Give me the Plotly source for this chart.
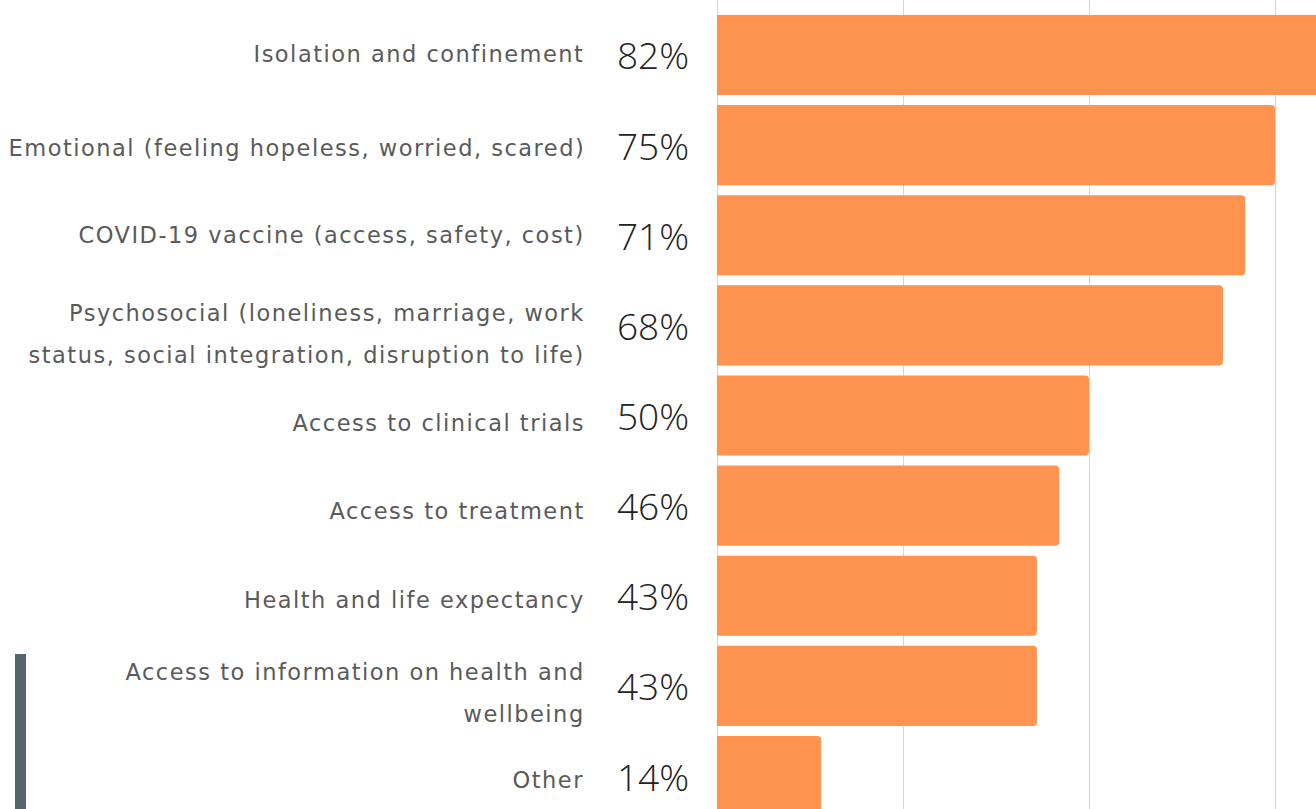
import plotly.graph_objects as go

# ---- data ----
label_lines = [
    ["Isolation and confinement"],
    ["Emotional (feeling hopeless, worried, scared)"],
    ["COVID-19 vaccine (access, safety, cost)"],
    ["Psychosocial (loneliness, marriage, work", "status, social integration, disruption to life)"],
    ["Access to clinical trials"],
    ["Access to treatment"],
    ["Health and life expectancy"],
    ["Access to information on health and", "wellbeing"],
    ["Other"],
]
categories = [" ".join(l) for l in label_lines]
values = [82, 75, 71, 68, 50, 46, 43, 43, 14]
grid_ticks = [0, 25, 50, 75]

# vertical pixel offsets of label lines relative to each bar centre (layout only)
label_offsets = [[-0.5], [2.5], [-0.5], [-12, 30], [7], [5], [4], [-14, 28], [4]]

# ---- layout geometry ----
W, H = 1316, 809
ML = 717
plot_w = W - ML
XMAX = 80.5
row_px = 90.125
first_center = 55
r_top = -first_center / row_px
r_bot = r_top + H / row_px


def px_to_paper_x(px):
    return (px - ML) / plot_w


def px_to_paper_y(py):
    return 1 - py / H


fig = go.Figure()
fig.add_trace(go.Bar(
    x=values,
    y=categories,
    orientation="h",
    marker=dict(color="#FF934F", line=dict(width=0)),
    hoverinfo="skip",
    showlegend=False,
))

annotations = []
label_font = dict(family="DejaVu Sans", size=22.5, color="#5a5a5a")
pct_font = dict(family="Open Sans", size=37, color="#222222", weight=300)

for i, (lines, offs, v) in enumerate(zip(label_lines, label_offsets, values)):
    center = first_center + i * row_px
    for line, o in zip(lines, offs):
        annotations.append(dict(
            x=px_to_paper_x(587), y=px_to_paper_y(center + o),
            xref="paper", yref="paper",
            text=line, showarrow=False, xanchor="right", yanchor="middle",
            align="right", font=label_font,
        ))
    annotations.append(dict(
        x=px_to_paper_x(691), y=px_to_paper_y(center),
        xref="paper", yref="paper",
        text=f"{v}%", showarrow=False, xanchor="right", yanchor="middle",
        align="right", font=pct_font,
    ))

shapes = [dict(
    type="rect", xref="paper", yref="paper",
    x0=px_to_paper_x(15), x1=px_to_paper_x(26),
    y0=0, y1=px_to_paper_y(654),
    fillcolor="#56656C", line=dict(width=0), layer="above",
)]

fig.update_layout(
    width=W, height=H,
    margin=dict(l=ML, r=0, t=0, b=0, pad=0),
    paper_bgcolor="white", plot_bgcolor="white",
    bargap=0.112,
    barcornerradius=4,
    xaxis=dict(range=[0, XMAX], tickvals=grid_ticks, showticklabels=False,
               showgrid=True, gridcolor="#D6D6D6", gridwidth=1,
               zeroline=True, zerolinecolor="#D6D6D6", zerolinewidth=1,
               showline=False, ticks="", fixedrange=True),
    yaxis=dict(categoryorder="array", categoryarray=categories,
               range=[r_bot, r_top], showticklabels=False, showgrid=False,
               zeroline=False, showline=False, ticks="", fixedrange=True),
    annotations=annotations,
    shapes=shapes,
)

post = """
var st=document.createElement('style');
st.textContent="body{margin:0;overflow:hidden;} text.annotation-text[style*='DejaVu']{letter-spacing:1.5px;}";
document.head.appendChild(st);
"""

fig.write_html("out.html", config={"displayModeBar": False}, post_script=post)
